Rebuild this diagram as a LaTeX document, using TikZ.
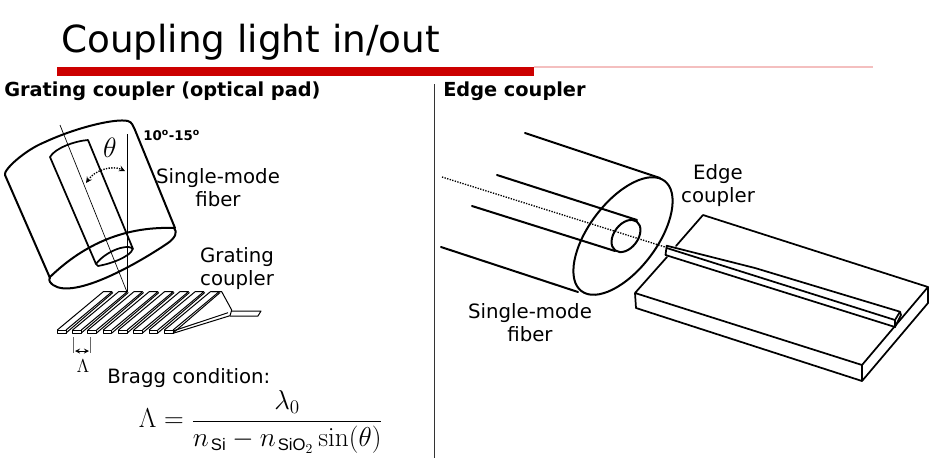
\documentclass[tikz,border=0pt]{standalone}
\usepackage{amsmath}
\usepackage{fix-cm}
\usepackage[no-math]{fontspec}
\setmainfont{DejaVu Sans}
\setsansfont{DejaVu Sans}
\newfontfamily\subfont{Liberation Sans}
\definecolor{barred}{HTML}{CC0000}
\definecolor{barpink}{HTML}{F4BFBF}
\newcommand{\subtxt}[1]{\mbox{\fontsize{12.5}{12.5}\selectfont\subfont\kern1.5pt #1}}
\tikzset{
  thick line/.style={line width=1.5pt,line join=round,line cap=round},
  mid line/.style={line width=1.3pt,line join=round,line cap=round},
  tooth line/.style={line width=0.75pt,line join=round},
  thin line/.style={line width=0.5pt},
  lbl/.style={inner sep=0pt,align=center,font=\fontsize{14.8}{17.3}\selectfont},
  head/.style={inner sep=0pt,anchor=base west,font=\fontsize{14.5}{16}\selectfont\bfseries},
}
\begin{document}
\begin{tikzpicture}[x=0.75pt,y=-0.75pt]
\useasboundingbox (0,0) rectangle (935,462);
\fill[white] (0,0) rectangle (935,462);
% title and bars
\node[inner sep=0pt,anchor=base west,font=\fontsize{28}{32}\selectfont] (title) at (61,52) {Coupling light in/out};
\fill[barpink] (534,66) rectangle (873,68);
\fill[barred] (57,67) rectangle (534,76);
\node[head] (h1) at (4,96) {Grating coupler (optical pad)};
\node[head] (h2) at (443,96) {Edge coupler};
\draw[line width=0.6pt,black!80] (434,84) -- (434,458);
% left fibre
\draw[thick line] (53,285) .. controls (47,280) and (50,279) .. (50,277) .. controls (80,248) and (120,226) .. (174,228)
  (174,228) .. controls (178,232) and (175,238) .. (168,243) .. controls (140,262) and (75,300) .. (53,285);
\draw[thick line] (50,278) -- (5,175) .. controls (3,170) and (25,150) .. (45,142) .. controls (75,128) and (115,118) .. (128,121) .. controls (132,122) and (133,126) .. (135,130) -- (175,228);
\draw[mid line] (96,264) -- (50,157) .. controls (55,148) and (75,141) .. (88,140) -- (133,249);
\draw[mid line] (96,264) .. controls (105,252) and (125,244) .. (132,248) .. controls (135,252) and (120,262) .. (98,266) -- (96,264);
\draw[thin line] (60,125) -- (127,292);
\draw[thin line] (127,134) -- (127,292);
\node[inner sep=0pt,font=\fontsize{21}{24}\selectfont] (th) at (110,148) {$\theta$};
\draw[line width=1pt,densely dotted,<->,>=stealth] (86,183) .. controls (95,170) and (112,165) .. (125,171);
\node[inner sep=0pt,anchor=base west,font=\fontsize{10}{12}\selectfont\bfseries] (deg) at (143,140) {10\textsuperscript{o}-15\textsuperscript{o}};
\node[lbl] (smf1) at (218,187.5) {Single-mode\\fiber};
\node[lbl] (gc) at (237,269) {Grating\\coupler};
% grating teeth
\foreach \i in {0,...,7}{
  \begin{scope}[xshift={\i*15.3*0.75pt}]
  \draw[tooth line] (57.3,333) -- (66,333) -- (66,330) -- (57.3,330) -- cycle;
  \draw[tooth line] (57.3,330) -- (103.3,291.7) -- (112,291.7) -- (66,330);
  \draw[tooth line] (113,292.5) -- (66,333);
  \end{scope}
}
\draw[tooth line] (173,331) -- (228,312.7) (173,333.3) -- (230,315.7);
\draw[tooth line] (212,291.7) -- (221.7,291.7) -- (231.7,310) -- (230,315.7);
\draw[tooth line] (231,311) -- (261,311) -- (258,316) -- (230,316);
\draw[line width=0.4pt,black!60] (73,337) -- (73,353) (90,337) -- (90,353);
\draw[line width=0.7pt,<->,>=stealth] (75,351) -- (89,351);
\node[inner sep=0pt,font=\fontsize{14}{16}\selectfont] (lam) at (83,366) {$\Lambda$};
\node[lbl,anchor=base west] (bragg) at (107,383) {Bragg condition:};
\node[inner sep=0pt,font=\fontsize{20.5}{24}\selectfont] (eq) at (261,422) {$\displaystyle \Lambda = \frac{\lambda_0}{n_{\subtxt{Si}} - n_{\subtxt{SiO}_2}\sin(\theta)}$};
% right fibre
\draw[thick line] (525,133) -- (660,178);
\draw[thick line] (497,175) -- (637,220);
\draw[thick line] (472,206) -- (615,251);
\draw[thick line] (441,247) -- (578,292);
\draw[thick line,rotate around={53:(623,236)}] (623,236) ellipse [x radius=69,y radius=34];
\draw[thick line,rotate around={53:(626,236)}] (626,236) ellipse [x radius=18,y radius=12];
\draw[line width=1pt,densely dotted] (442,177) -- (665,247);
% chip
\draw[mid line] (635,293) -- (667,257) (676,246) -- (703,215) -- (928,287) -- (862,365) -- (635,293) -- (636,308) -- (862,381) -- (862,365)
  (862,381) -- (928,303) -- (928,287);
\draw[mid line] (666.7,245.7) -- (665.5,255) -- (895,327) -- (895,320) -- (666.7,248);
\draw[mid line] (666.7,245.7) -- (755,268) -- (900,311.7) -- (901,315) -- (895,327) (895,320) -- (900,311.7);
\node[lbl] (smf2) at (530,323) {Single-mode\\fiber};
\node[lbl] (ec) at (718,185.5) {Edge\\coupler};
\end{tikzpicture}
\end{document}
